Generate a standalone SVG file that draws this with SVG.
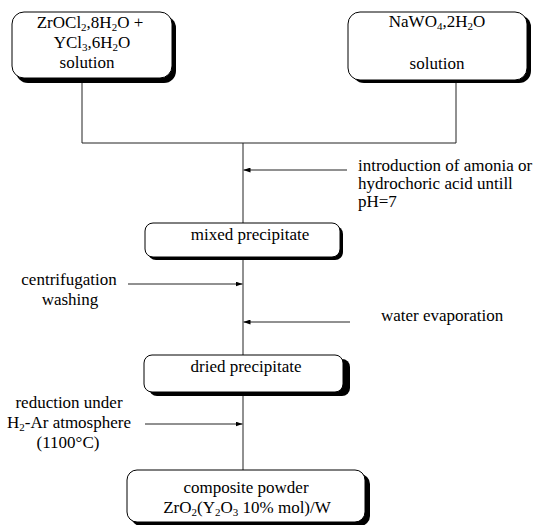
<svg xmlns="http://www.w3.org/2000/svg" width="539" height="525" viewBox="0 0 539 525">
<defs>
<style>
.t{font-family:'Liberation Serif','Times New Roman',serif;font-size:17px;fill:#000}
.c{text-anchor:middle}
.s{font-size:11px}
.sh{fill:#000}
.bx{fill:#fff;stroke:#000;stroke-width:1}
.ln{stroke:#222;stroke-width:1;fill:none}
</style>
<marker id="ah" markerWidth="7" markerHeight="5" refX="7" refY="2.5" orient="auto" markerUnits="userSpaceOnUse">
<path d="M0,0 L7,2.5 L0,5 Z" fill="#000"/>
</marker>
</defs>
<rect width="539" height="525" fill="#fff"/>
<g id="connectors">
<path class="ln" d="M82,78 V143 H456 V80"/>
<path class="ln" d="M243,143 V223"/>
<path class="ln" d="M243,260 V355"/>
<path class="ln" d="M243,395 V470"/>
<path class="ln" d="M347,170 H243.5" marker-end="url(#ah)"/>
<path class="ln" d="M128,284 H242.5" marker-end="url(#ah)"/>
<path class="ln" d="M350,322 H243.5" marker-end="url(#ah)"/>
<path class="ln" d="M145,424 H242.5" marker-end="url(#ah)"/>
</g>
<g class="t">
<g id="box-zr">
<rect class="sh" x="16" y="16" width="160" height="67" rx="12"/>
<rect class="bx" x="12" y="12" width="160" height="66" rx="12"/>
<text class="c" x="90" y="28">ZrOCl<tspan class="s" dy="3">2</tspan><tspan dy="-3">,8H</tspan><tspan class="s" dy="3">2</tspan><tspan dy="-3">O +</tspan></text>
<text class="c" x="92" y="48">YCl<tspan class="s" dy="3">3</tspan><tspan dy="-3">,6H</tspan><tspan class="s" dy="3">2</tspan><tspan dy="-3">O</tspan></text>
<text class="c" x="87" y="68">solution</text>
</g>
<g id="box-na">
<rect class="sh" x="352" y="15" width="179" height="68" rx="12"/>
<rect class="bx" x="348" y="12" width="179" height="68" rx="12"/>
<text class="c" x="437" y="27">NaWO<tspan class="s" dy="3">4</tspan><tspan dy="-3">,2H</tspan><tspan class="s" dy="3">2</tspan><tspan dy="-3">O</tspan></text>
<text class="c" x="437" y="69">solution</text>
</g>
<g id="label-acid">
<text x="358" y="171">introduction of amonia or</text>
<text x="358" y="189">hydrochoric acid untill</text>
<text x="358" y="207">pH=7</text>
</g>
<g id="box-mixed">
<rect class="sh" x="148" y="226" width="195" height="34" rx="8"/>
<rect class="bx" x="145" y="223" width="195" height="34" rx="8"/>
<text class="c" x="250" y="240">mixed precipitate</text>
</g>
<g id="label-centrifugation">
<text class="c" x="69" y="285">centrifugation</text>
<text class="c" x="70" y="305">washing</text>
</g>
<g id="label-water">
<text x="381" y="321">water evaporation</text>
</g>
<g id="box-dried">
<rect class="sh" x="149" y="359" width="201" height="37" rx="8"/>
<rect class="bx" x="144" y="355" width="199" height="37" rx="8"/>
<text class="c" x="246" y="372">dried precipitate</text>
</g>
<g id="label-reduction">
<text class="c" x="69" y="408">reduction under</text>
<text class="c" x="69" y="428">H<tspan class="s" dy="3">2</tspan><tspan dy="-3">-Ar atmosphere</tspan></text>
<text class="c" x="68" y="448">(1100°C)</text>
</g>
<g id="box-composite">
<rect class="sh" x="131" y="474" width="239" height="52" rx="10"/>
<rect class="bx" x="127" y="470" width="238" height="52" rx="10"/>
<text class="c" x="246" y="493">composite powder</text>
<text class="c" x="247" y="513">ZrO<tspan class="s" dy="3">2</tspan><tspan dy="-3">(Y</tspan><tspan class="s" dy="3">2</tspan><tspan dy="-3">O</tspan><tspan class="s" dy="3">3</tspan><tspan dy="-3"> 10% mol)/W</tspan></text>
</g>
</g>
</svg>
